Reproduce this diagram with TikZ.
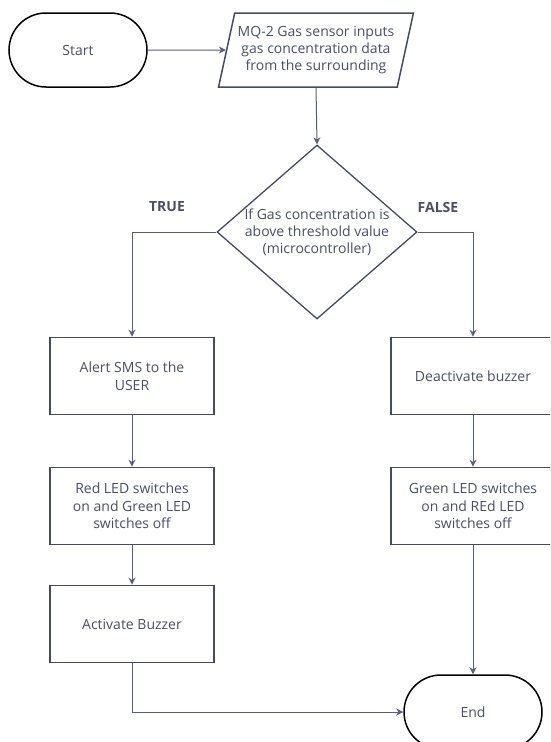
\documentclass[tikz,border=0pt]{standalone}
\usepackage{fontspec}
\setmainfont{Open Sans}
\usepackage{tikz}
\usetikzlibrary{shapes.geometric,arrows.meta}

\definecolor{inktxt}{HTML}{4A4F68}
\definecolor{inkline}{HTML}{5A5F78}
\definecolor{inkbox}{HTML}{464B62}

\tikzset{
  term/.style={draw=black,line width=1.5pt,rounded corners=37pt,minimum width=138pt,minimum height=74pt,text=inktxt,font=\fontsize{14}{17.5}\selectfont},
  io/.style={draw=inkbox,line width=1.5pt,trapezium,trapezium left angle=74,trapezium right angle=106,trapezium stretches=true,minimum width=195pt,minimum height=74pt,inner xsep=0pt,align=center,text=inktxt,font=\fontsize{14}{17}\selectfont},
  decision/.style={draw=inkbox,line width=1.3pt,diamond,shape aspect=1.15,minimum width=200pt,minimum height=174pt,inner sep=-5pt,align=center,text=inktxt,font=\fontsize{14}{17}\selectfont},
  proc/.style={draw=inkbox,line width=1.6pt,rectangle,minimum width=164pt,minimum height=77pt,align=center,text=inktxt,font=\fontsize{14}{17.5}\selectfont},
  branch/.style={text=inktxt,font=\fontsize{14}{17}\selectfont\bfseries},
  line/.style={draw=inkline,line width=1pt,-{Stealth[length=7pt,width=7pt]}}
}

\begin{document}
\begin{tikzpicture}[x=1pt,y=-1pt]
  \useasboundingbox[fill=white] (0,0) rectangle (550,742);
  \clip (0,0) rectangle (550,742);

  % top row
  \node[term] (start) at (78,50) {Start};
  \node[io] (input) at (316,50) {MQ-2 Gas sensor inputs\\gas concentration data\\from the surrounding};

  % decision
  \node[decision] (decide) at (317,232) {If Gas concentration is\\above threshold value\\(microcontroller)};
  \node[branch] (yes) at (167,207) {TRUE};
  \node[branch] (no) at (438,207) {FALSE};

  % left column
  \node[proc] (alert) at (132,376) {Alert SMS to the\\USER};
  \node[proc] (redled) at (132,506) {Red LED switches\\on and Green LED\\switches off};
  \node[proc] (buzzon) at (132,624) {Activate Buzzer};

  % right column
  \node[proc] (buzzoff) at (473,376) {Deactivate buzzer};
  \node[proc] (greenled) at (473,506) {Green LED switches\\on and REd LED\\switches off};
  \node[term] (stop) at (473,712) {End};

  % connectors
  \path[line] (start.east) -- (input.west);
  \path[line] (input.south) -- (decide.north);
  \path[line] (decide.west) -| (alert.north);
  \path[line] (decide.east) -| (buzzoff.north);
  \path[line] (alert.south) -- (redled.north);
  \path[line] (redled.south) -- (buzzon.north);
  \path[line] (buzzoff.south) -- (greenled.north);
  \path[line] (greenled.south) -- (stop.north);
  \path[line] (buzzon.south) |- (stop.west);
\end{tikzpicture}
\end{document}
